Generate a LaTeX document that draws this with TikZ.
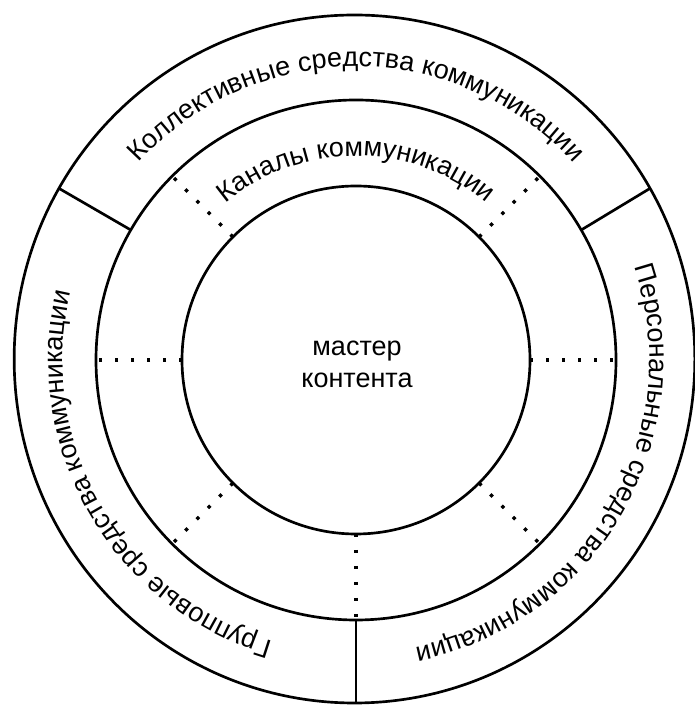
\documentclass[tikz,border=0pt]{standalone}
\usepackage{fontspec}
\setmainfont{Liberation Sans}
\usetikzlibrary{decorations.text,shapes.geometric,calc}
\newcommand\lblfont{\fontsize{20.25pt}{24pt}\selectfont}
\begin{document}
\begin{tikzpicture}[x=0.75pt,y=0.75pt,
  ring/.style={draw, line width=2pt, inner sep=0pt, outer sep=0pt},
  sepline/.style={line width=2pt},
  dotline/.style={line width=2.5pt, dash pattern=on 2.5pt off 9.5pt},
  lbl/.style={font=\lblfont, align=center},
  arctext/.style={decorate, decoration={text along path, text align=center, text={|\lblfont|#1}}}]
\useasboundingbox (0,0) rectangle (695,706);
\coordinate (c) at (356,346);
\node[ring, circle, minimum size=261pt] (inner) at (c) {};
\node[ring, circle, minimum size=390pt] (middle) at (c) {};
\node[ring, ellipse, minimum width=510.5pt, minimum height=516pt] (outer) at (354.5,347) {};
\node[lbl] (master) at (357,342) {мастер\\контента};
\foreach \a in {0,45,135,180,225,270,315}
  \draw[dotline] (inner.\a) -- (middle.\a);
\draw[sepline] (middle.30) -- (outer.30);
\draw[sepline] (middle.150) -- (outer.150);
\draw[sepline] (middle.270) -- (middle.270 |- outer.south);
\path[arctext={Коллективные средства коммуникации}] ($(c)+(150:220pt)$) arc[start angle=150, end angle=30, radius=220pt];
\path[arctext={Персональные средства коммуникации}] ($(c)+(30:220pt)$) arc[start angle=30, end angle=-90, radius=220pt];
\path[arctext={Групповые средства коммуникации}] ($(c)+(270:220pt)$) arc[start angle=270, end angle=150, radius=220pt];
\path[arctext={Каналы коммуникации}] ($(c)+(135:153pt)$) arc[start angle=135, end angle=45, radius=153pt];
\end{tikzpicture}
\end{document}
